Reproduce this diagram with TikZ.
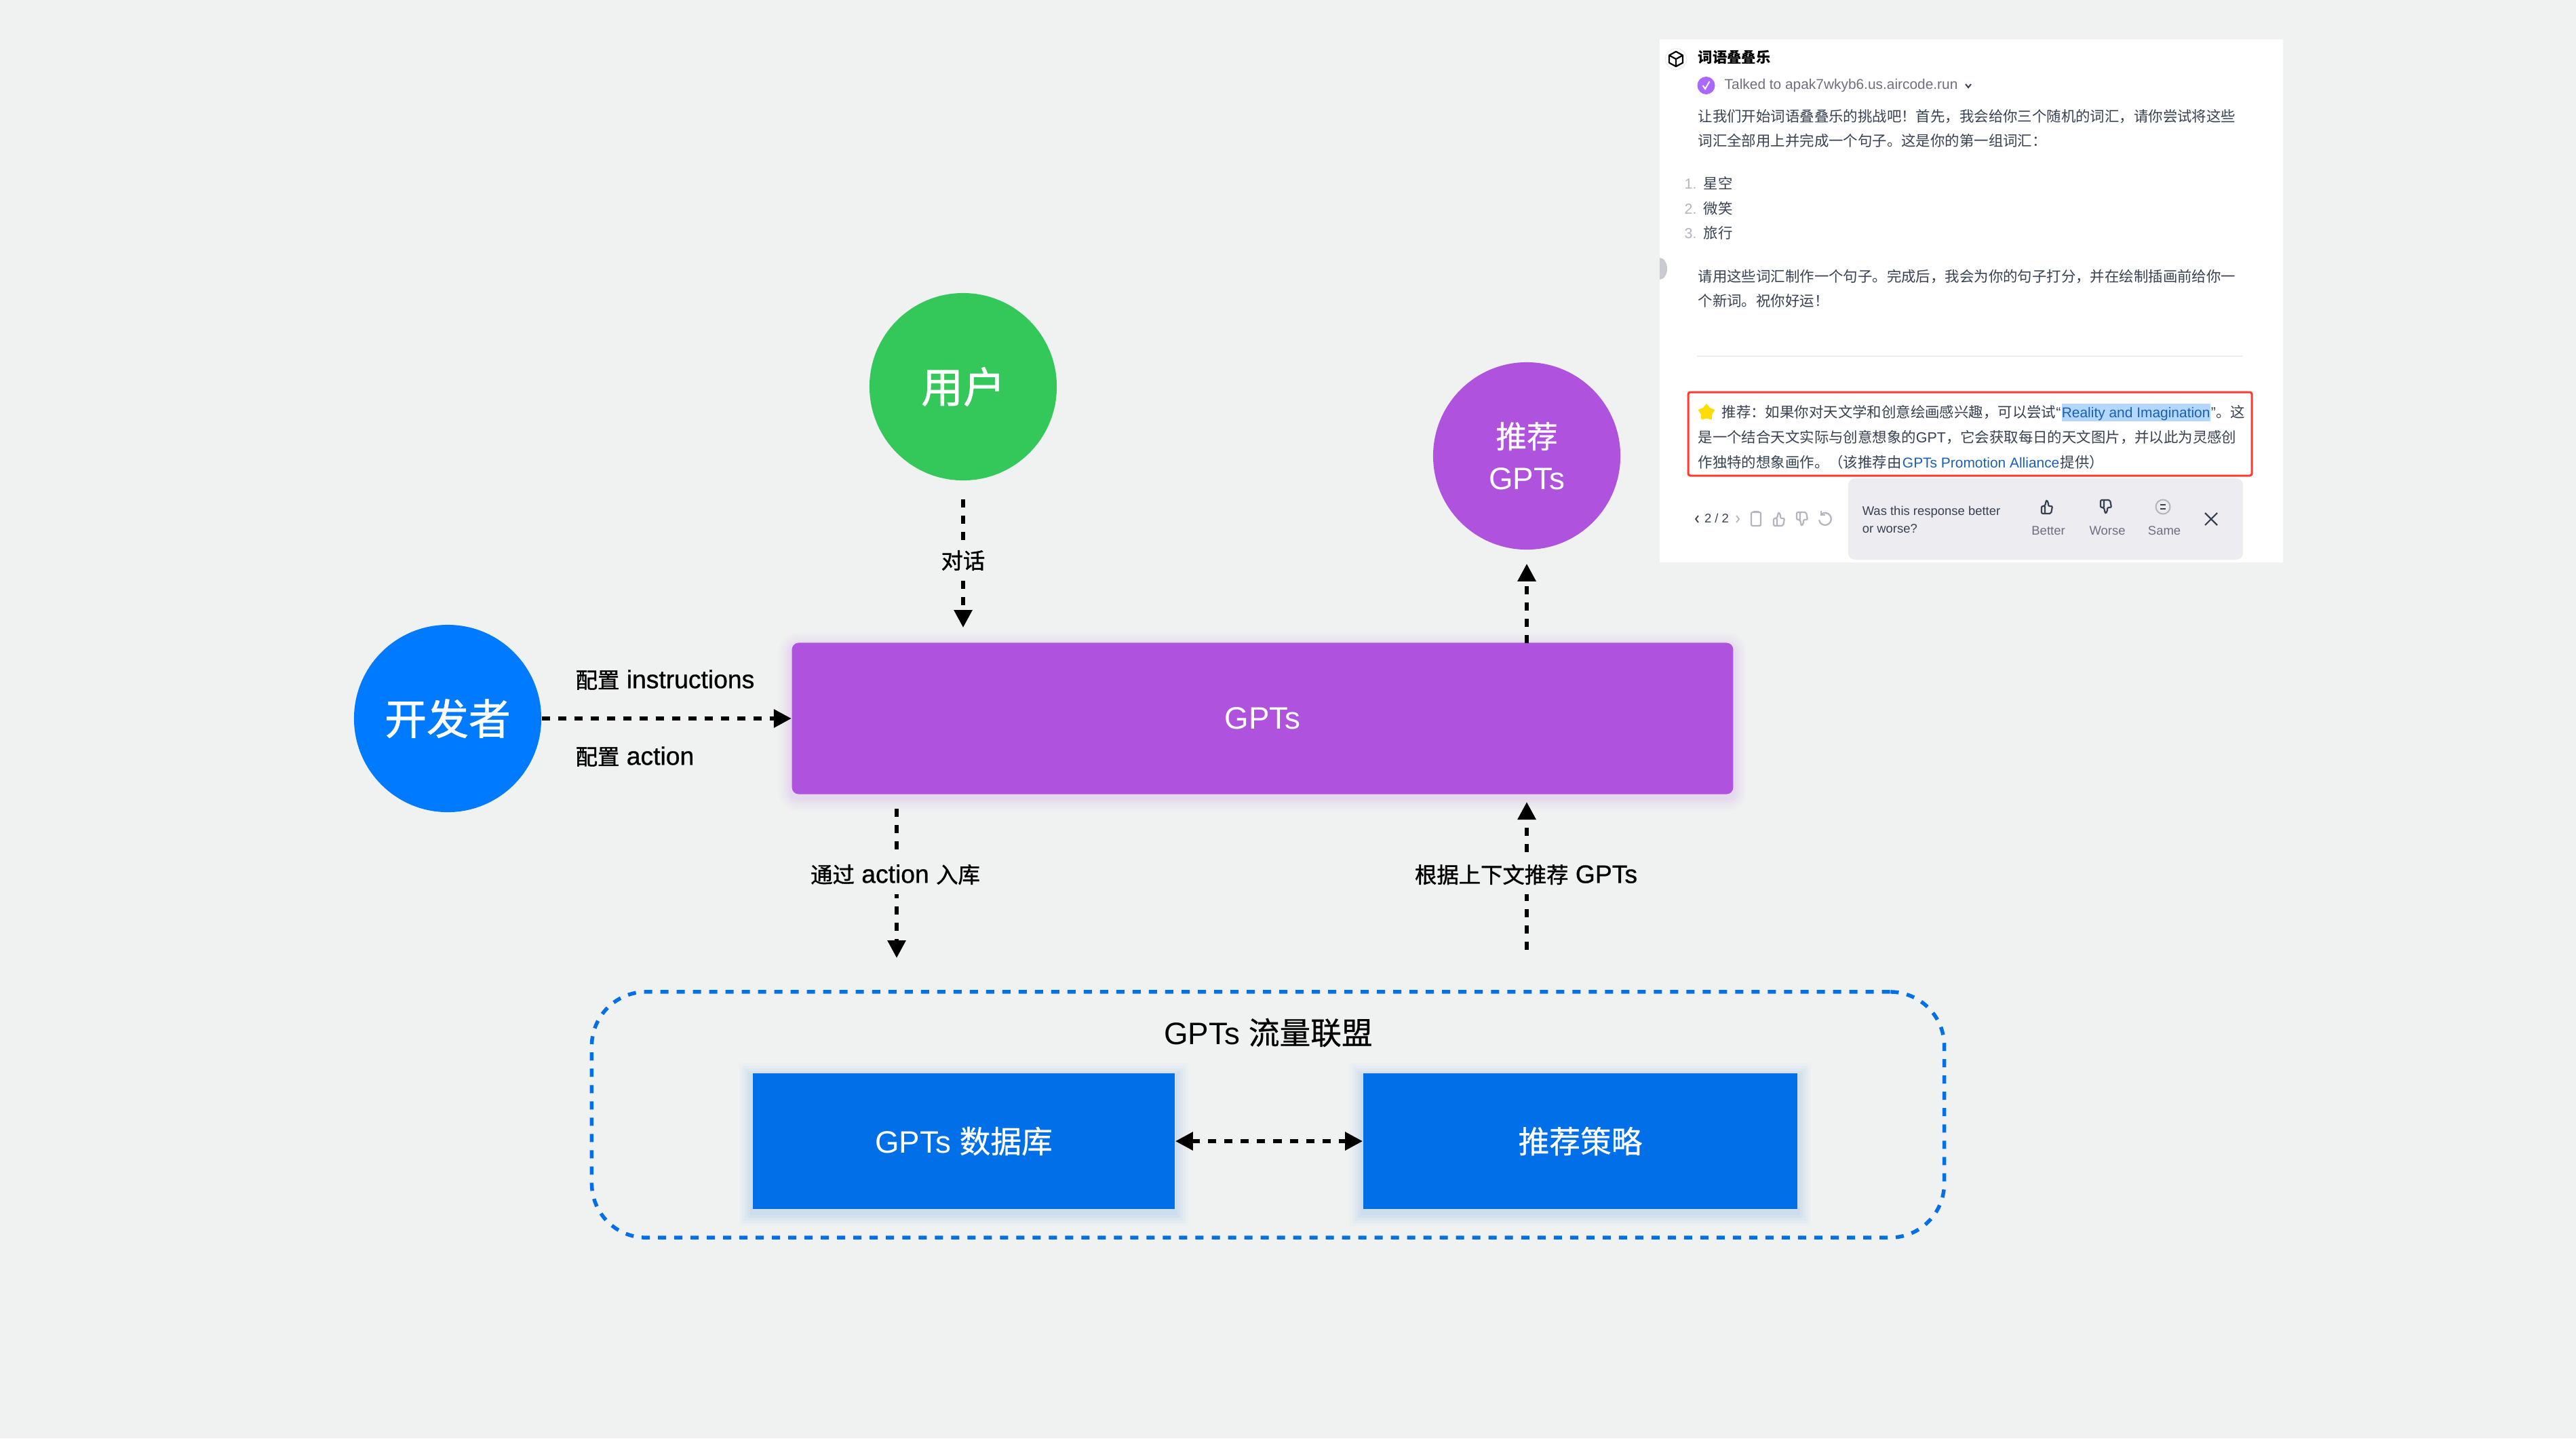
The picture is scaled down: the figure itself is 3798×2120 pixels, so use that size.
\documentclass[tikz,border=0pt]{standalone}
\usepackage{fontspec}
\setmainfont{Liberation Sans}
\newfontfamily\cjk{Noto Sans CJK SC}
\newfontfamily\cjkmid[FakeBold=0.6]{Noto Sans CJK SC}
\newfontfamily\cjkmed[FakeBold=1.2]{Noto Sans CJK SC}
\newfontfamily\latmed[FakeBold=0.8]{Liberation Sans}
\usetikzlibrary{arrows.meta,positioning,shapes.geometric}
\definecolor{mybg}{RGB}{240,242,242}
\definecolor{myblue}{RGB}{0,122,255}
\definecolor{mygreen}{RGB}{52,199,89}
\definecolor{mypurple}{RGB}{175,82,222}
\definecolor{myboxblue}{RGB}{0,111,232}
\definecolor{mybody}{RGB}{55,65,81}
\definecolor{mygrey}{RGB}{110,110,128}
\definecolor{mylight}{RGB}{180,180,192}
\definecolor{mypanel}{RGB}{236,236,241}
\definecolor{myred}{RGB}{255,59,48}
\definecolor{myhl}{RGB}{179,215,255}
\definecolor{mylink}{RGB}{29,95,175}
\definecolor{mybadge}{RGB}{171,104,255}
\newcommand{\zh}[1]{{\cjk #1}}
\newcommand{\zhb}[1]{{\cjkmid #1}}
\newcommand{\zhm}[1]{{\cjkmed #1}}
\newcommand{\zhl}[1]{{\cjkmed\fontsize{9.2pt}{11pt}\selectfont #1}}
\tikzset{
  softshadow/.style={
    preaction={draw=#1,opacity=.02,line width=.40cm,transform canvas={yshift=-.05cm}},
    preaction={draw=#1,opacity=.025,line width=.32cm,transform canvas={yshift=-.05cm}},
    preaction={draw=#1,opacity=.03,line width=.24cm,transform canvas={yshift=-.05cm}},
    preaction={draw=#1,opacity=.035,line width=.16cm,transform canvas={yshift=-.05cm}},
    preaction={draw=#1,opacity=.04,line width=.08cm,transform canvas={yshift=-.05cm}}},
  roundnode/.style={circle,fill=#1,text=white,minimum size=2.76cm,inner sep=0pt,align=center},
  boxnode/.style={rectangle,fill=myboxblue,text=white,minimum width=6.3cm,minimum height=1.99cm,inner sep=0pt,
    softshadow=myboxblue,font=\fontsize{13pt}{16pt}\selectfont},
  flowline/.style={-{Triangle[length=.26cm,width=.26cm]},line width=.06cm,dash pattern=on .12cm off .12cm},
  flowlabel/.style={font=\latmed\fontsize{10.6pt}{11pt}\selectfont,inner sep=0pt},
  uitext/.style={font=\fontsize{6.09pt}{8pt}\selectfont,text=mybody,inner sep=0pt,anchor=west,text height=.2cm,text depth=.06cm},
  smalltext/.style={font=\fontsize{5.25pt}{7pt}\selectfont,text=mygrey,inner sep=0pt,text height=.16cm,text depth=.05cm},
  thumbicon/.pic={\draw[line width=.022cm,rounded corners=.02cm] (-8,-1) -- (-8,10) -- (6,10) -- (8,-1) -- (2,-1) -- (2,-7) -- (-1,-10) -- (-3,-1) -- cycle (-3,-1) -- (-3,10);},
  x=.01cm,y=-.01cm
}
\begin{document}
\begin{tikzpicture}
  \fill[mybg] (0,0) rectangle (3798,2120);
  \useasboundingbox (0,0) rectangle (3798,2120);
  % main nodes
  \node[roundnode=myblue,font=\fontsize{17.6pt}{20pt}\selectfont] (dev) at (660,1059) {\zhm{开发者}};
  \node[roundnode=mygreen,font=\fontsize{17.6pt}{20pt}\selectfont] (user) at (1420,570) {\zhm{用户}};
  \node[roundnode=mypurple,font=\fontsize{13pt}{17.4pt}\selectfont] (rec) at (2251,672) {\zhb{推荐}\\GPTs};
  \node[rectangle,fill=mypurple,rounded corners=.1cm,text=white,minimum width=13.87cm,minimum height=2.23cm,inner sep=0pt,
    softshadow=mypurple,font=\fontsize{13pt}{16pt}\selectfont] (gpts) at (1861.5,1059) {GPTs};
  \node[rectangle,draw=myboxblue,line width=.055cm,dash pattern=on .12cm off .12cm,rounded corners=.8cm,
    minimum width=19.93cm,minimum height=3.62cm,inner sep=0pt] (alliance) at (1869.5,1643) {};
  \node[font=\fontsize{13pt}{16pt}\selectfont,inner sep=0pt] (alliancetitle) at (1870,1522) {GPTs \zhb{流量联盟}};
  \node[boxnode,minimum width=6.22cm] (db) at (1421,1682) {GPTs \zhb{数据库}};
  \node[boxnode,minimum width=6.4cm] (strat) at (2330,1682) {\zhb{推荐策略}};
  % connectors
  \coordinate (gptsout) at (1322,1192);
  \coordinate (dbin) at (1322,1412);
  \coordinate (recout) at (2251,1400);
  \coordinate (recin) at (2251,1182);
  \coordinate (recup) at (2251,948);
  \coordinate (userin) at (1420,925);
  \draw[flowline] (dev) -- (gpts);
  \draw[flowline,shorten <=.27cm] (user) -- (userin);
  \draw[flowline,shorten >=.2cm] (recup) -- (rec);
  \draw[flowline] (gptsout) -- (dbin);
  \draw[flowline] (recout) -- (recin);
  \draw[{Triangle[length=.26cm,width=.26cm]}-{Triangle[length=.26cm,width=.26cm]},line width=.06cm,dash pattern=on .12cm off .12cm] (db) -- (strat);
  % labels
  \node[flowlabel,anchor=west] (lblinstr) at (848,1002) {\zhl{配置} instructions};
  \node[flowlabel,anchor=west] (lblaction) at (848,1115) {\zhl{配置} action};
  \node[flowlabel,fill=mybg,inner ysep=.14cm] (lblchat) at (1420,826) {\zhl{对话}};
  \node[flowlabel,fill=mybg,inner ysep=.14cm] (lblstore) at (1320,1289) {\zhl{通过} action \zhl{入库}};
  \node[flowlabel,fill=mybg,inner ysep=.14cm] (lblctx) at (2250,1289) {\zhl{根据上下文推荐} GPTs};
  % screenshot
  \fill[white] (2447,58) rectangle (3366,829);
  \fill[mylight!70] (2447,380) arc[start angle=90,end angle=-90,x radius=.11cm,y radius=.16cm] -- cycle;
  \draw[mypanel,line width=.012cm] (2471,87) circle[radius=.155cm];
  \draw[black,line width=.022cm,line join=round] (2471,76) -- (2481,81.5) -- (2481,92.5) -- (2471,98) -- (2461,92.5) -- (2461,81.5) -- cycle
    (2461,81.5) -- (2471,87) -- (2481,81.5) (2471,87) -- (2471,98);
  \node[uitext,text=black,font=\fontsize{6.09pt}{8pt}\selectfont\bfseries] (chattitle) at (2503,85) {\zh{词语叠叠乐}};
  \node[circle,fill=mybadge,minimum size=.26cm,inner sep=0pt] (badge) at (2515.5,126) {};
  \draw[white,line width=.02cm] (2510.5,126) -- (2514,131) -- (2520.5,120);
  \node[smalltext,anchor=west,font=\fontsize{5.94pt}{7pt}\selectfont] (talked) at (2542,126) {Talked to apak7wkyb6.us.aircode.run};
  \draw[mybody,line width=.02cm] (2898,124) -- (2902,129) -- (2906,124);
  \node[uitext] (paraone) at (2503,172) {\zh{让我们开始词语叠叠乐的挑战吧！首先，我会给你三个随机的词汇，请你尝试将这些}};
  \node[uitext] (paratwo) at (2503,208) {\zh{词汇全部用上并完成一个句子。这是你的第一组词汇：}};
  \node[uitext,text=mylight] (numone) at (2483,271) {1.};
  \node[uitext] (wordone) at (2511,271) {\zh{星空}};
  \node[uitext,text=mylight] (numtwo) at (2483,308) {2.};
  \node[uitext] (wordtwo) at (2511,308) {\zh{微笑}};
  \node[uitext,text=mylight] (numthree) at (2483,344) {3.};
  \node[uitext] (wordthree) at (2511,344) {\zh{旅行}};
  \node[uitext] (parathree) at (2503,408) {\zh{请用这些词汇制作一个句子。完成后，我会为你的句子打分，并在绘制插画前给你一}};
  \node[uitext] (parafour) at (2503,444) {\zh{个新词。祝你好运！}};
  \draw[mypanel,line width=.02cm] (2502,525) -- (3307,525);
  \draw[myred,line width=.03cm,rounded corners=.03cm] (2489,578) rectangle (3320,701);
  \node[star,star points=5,fill=yellow!80!orange,minimum size=.26cm,inner sep=0pt] (staricon) at (2516,608) {};
  \node[uitext] (recone) at (2538,608) {\zh{推荐：如果你对天文学和创意绘画感兴趣，可以尝试}“};
  \node[uitext,right=0pt of recone,fill=myhl,text=mylink,font=\fontsize{5.95pt}{8pt}\selectfont] (rectwo) {Reality and Imagination};
  \node[uitext,right=0pt of rectwo] (recthree) {”\zh{。这}};
  \node[uitext] (recfour) at (2503,645) {\zh{是一个结合天文实际与创意想象的}GPT\zh{，它会获取每日的天文图片，并以此为灵感创}};
  \node[uitext] (recfive) at (2503,682) {\zh{作独特的想象画作。（该推荐由}};
  \node[uitext,right=0pt of recfive,text=mylink,font=\fontsize{5.95pt}{8pt}\selectfont] (recsix) {GPTs Promotion Alliance};
  \node[uitext,right=0pt of recsix] (recseven) {\zh{提供）}};
  % feedback bar
  \fill[mypanel,rounded corners=.1cm] (2725,705) rectangle (3307,825);
  \draw[mybody,line width=.018cm] (2504,760) -- (2500,765) -- (2504,770);
  \draw[mylight,line width=.018cm] (2560,760) -- (2564,765) -- (2560,770);
  \node[smalltext,text=mybody] (pagenum) at (2531,765) {2 / 2};
  \draw[mylight,line width=.022cm,rounded corners=.02cm] (2582,755) rectangle (2596,775);
  \draw[mylight,line width=.022cm] (2585,754) -- (2593,754);
  \pic[color=mylight] (copyup) at (2623,765) {thumbicon};
  \pic[color=mylight,yscale=-1] (copydown) at (2657,765) {thumbicon};
  \draw[mylight,line width=.022cm] (2685,758) arc[start angle=130,end angle=-170,radius=.09cm];
  \draw[mylight,line width=.022cm] (2685,753) -- (2685,759) -- (2691,759);
  \node[smalltext,anchor=west,text=mybody] (askone) at (2745,754) {Was this response better};
  \node[smalltext,anchor=west,text=mybody] (asktwo) at (2745,780) {or worse?};
  \pic[color=mybody] (iconbetter) at (3018,747) {thumbicon};
  \pic[color=mybody,yscale=-1] (iconworse) at (3105,747) {thumbicon};
  \draw[mylight,line width=.02cm] (3189,747) circle[radius=.105cm];
  \draw[mybody,line width=.018cm] (3185,744) -- (3193,744) (3185,750) -- (3193,750);
  \node[smalltext] (better) at (3020,783) {Better};
  \node[smalltext] (worse) at (3107,783) {Worse};
  \node[smalltext] (same) at (3191,783) {Same};
  \draw[mybody,line width=.022cm] (3251,756) -- (3269,774) (3269,756) -- (3251,774);
\end{tikzpicture}
\end{document}
